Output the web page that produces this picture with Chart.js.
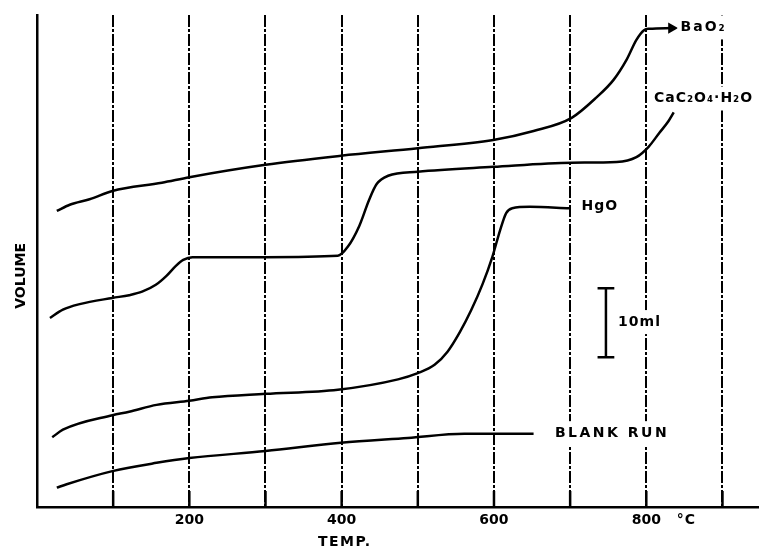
<!DOCTYPE html>
<html><head><meta charset="utf-8">
<script src="https://cdn.jsdelivr.net/npm/chart.js@4.4.1/dist/chart.umd.min.js"></script>
<style>html,body{margin:0;padding:0;background:#fff;}</style>
</head><body>
<canvas id="c" width="764" height="552"></canvas>
<script>
// ---- data (temperature in °C, volume in ml) ----
const baoTemp = [26,43,69,99,164,200,300,399,500,599,652,702,735,757,774,787,797,804,833];
const baoVol  = [42.9,43.8,44.6,45.8,47.0,47.8,49.6,50.9,52.0,53.2,54.5,56.4,59.4,61.9,64.8,67.7,69.1,69.3,69.4];

const cacTemp = [17,34,56,99,121,138,156,170,182,192,204,300,395,408,423,436,446,461,500,599,702,761,787,803,817,829,836];
const cacVol  = [27.4,28.6,29.4,30.3,30.7,31.2,32.2,33.5,34.9,35.8,36.2,36.2,36.4,37.7,40.7,44.5,46.8,48.0,48.6,49.3,49.9,50.0,50.7,52.2,54.2,55.9,57.2];

const hgoTemp = [20,34,99,121,157,200,230,300,395,474,500,522,539,555,570,585,598,608,616,624,647,699];
const hgoVol  = [10.1,11.2,13.3,13.8,14.8,15.4,15.9,16.4,17.0,18.5,19.4,20.6,22.5,25.3,28.5,32.3,36.3,40.1,42.6,43.3,43.5,43.3];

const blankTemp = [26,39,99,157,200,300,399,487,561,600,652];
const blankVol  = [2.8,3.3,5.2,6.4,7.1,8.1,9.3,10.0,10.6,10.6,10.6];

// 10 ml scale bar
const scaleBarTemp = [736,747,758];
const scaleBarVol  = [21.7,31.7];

const tickLabels = {200:'200',400:'400',600:'600',800:'800'};
const seriesNames = ['BaO₂','CaC₂O₄·H₂O','HgO','BLANK RUN'];

// ---- build ----
const pts = (xs, ys) => xs.map((x,i)=>({x, y: ys[i]}));
const barPts = [
  {x:scaleBarTemp[0], y:scaleBarVol[0]},{x:scaleBarTemp[2], y:scaleBarVol[0]},{x:scaleBarTemp[1], y:null},
  {x:scaleBarTemp[1], y:scaleBarVol[0]},{x:scaleBarTemp[1], y:scaleBarVol[1]},{x:scaleBarTemp[1], y:null},
  {x:scaleBarTemp[0], y:scaleBarVol[1]},{x:scaleBarTemp[2], y:scaleBarVol[1]}
];

const FONT = '"DejaVu Sans", sans-serif';
const notes = [
  {text:seriesNames[0], t:845, v:69.5, size:14, sp:2, bg:true},
  {text:seriesNames[1], t:810, v:59.2, size:14, sp:1, bg:true},
  {text:seriesNames[2], t:715, v:43.5, size:14, sp:1, bg:false},
  {text:seriesNames[3], t:680, v:10.7, size:14, sp:2.5, bg:true},
  {text:'10ml', t:763, v:26.8, size:14, sp:1, bg:true},
  {text:'°C', t:840, v:-1.9, size:14, sp:1, bg:false},
  {text:'TEMP.', t:404, v:-5.1, size:14, sp:1.5, bg:false, center:true},
  {text:'VOLUME', t:-20.5, v:33.5, size:14, sp:0, bg:false, rot:true}
];

const notePlugin = {
  id:'notes',
  afterDraw(chart){
    const {ctx, scales:{x, y}} = chart;
    // inner solid tick marks at the foot of each grid line
    ctx.save();
    ctx.strokeStyle = '#000'; ctx.lineWidth = 2.5;
    for (let t = 100; t <= 900; t += 100) {
      const px = x.getPixelForValue(t);
      ctx.beginPath(); ctx.moveTo(px, y.bottom); ctx.lineTo(px, y.bottom - 16); ctx.stroke();
    }
    ctx.restore();
    notes.forEach(n => {
      const px = x.getPixelForValue(n.t), py = y.getPixelForValue(n.v);
      ctx.save();
      ctx.font = 'bold ' + n.size + 'px ' + FONT;
      ctx.letterSpacing = n.sp + 'px';
      ctx.fillStyle = '#000';
      ctx.textBaseline = 'middle';
      const w = ctx.measureText(n.text).width;
      if (n.rot) {
        ctx.translate(px, py); ctx.rotate(-Math.PI/2);
        ctx.textAlign = 'center'; ctx.fillText(n.text, 0, 0);
      } else {
        const left = n.center ? px - w/2 : px;
        if (n.bg) { ctx.fillStyle = '#fff'; ctx.fillRect(left - 3, py - 12, w + 6, 24); ctx.fillStyle = '#000'; }
        ctx.textAlign = 'left'; ctx.fillText(n.text, left, py);
      }
      ctx.restore();
    });
  }
};

const curve = (data, extra) => Object.assign({
  data, borderColor:'#000', backgroundColor:'#000', borderWidth:2.5,
  pointRadius:0, cubicInterpolationMode:'monotone', fill:false
}, extra || {});

new Chart(document.getElementById('c'), {
  type:'line',
  data:{ datasets:[
    curve(pts(baoTemp, baoVol), {
      label:seriesNames[0],
      pointStyle:'triangle',
      pointRadius: c => c.dataIndex === baoTemp.length-1 ? 4 : 0,
      pointRotation: 90
    }),
    curve(pts(cacTemp, cacVol), {label:seriesNames[1]}),
    curve(pts(hgoTemp, hgoVol), {label:seriesNames[2]}),
    curve(pts(blankTemp, blankVol), {label:seriesNames[3]}),
    {label:'10 ml', data:barPts, borderColor:'#000', borderWidth:2.5, pointRadius:0, tension:0, spanGaps:false}
  ]},
  options:{
    responsive:false, animation:false,
    layout:{padding:{left:0, right:2, top:15, bottom:0}},
    plugins:{legend:{display:false}, tooltip:{enabled:false}},
    scales:{
      x:{
        type:'linear', min:0, max:946,
        afterFit: s => { s.height = 45; },
        grid:{display:true, color:'#000', lineWidth:2, drawTicks:false, drawOnChartArea:true},
        border:{display:true, color:'#000', width:2.5, dash:[12,2,3,2]},
        ticks:{stepSize:100, includeBounds:false, autoSkip:false, maxRotation:0, padding:5,
               color:'#000', font:{family:FONT, size:14, weight:'bold'},
               callback: v => tickLabels[v] || ''}
      },
      y:{
        type:'linear', min:0, max:71.3,
        afterFit: s => { s.width = 37; },
        grid:{display:false},
        border:{display:true, color:'#000', width:2.5},
        ticks:{display:false}
      }
    }
  },
  plugins:[notePlugin]
});
</script>
</body></html>
